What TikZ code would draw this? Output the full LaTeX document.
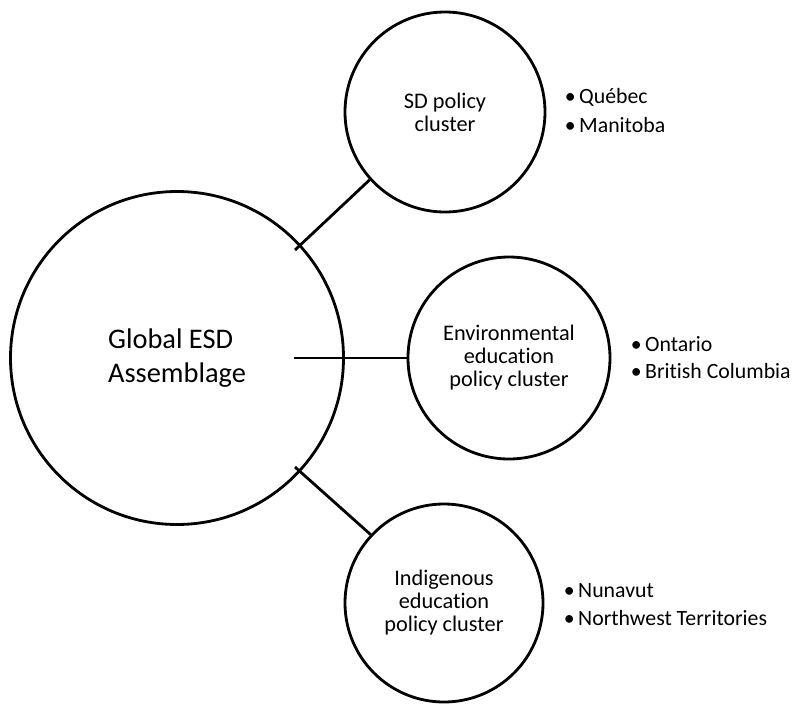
\documentclass[tikz,border=0pt]{standalone}
\usepackage{fontspec}
\setmainfont[Ligatures={NoCommon}]{Carlito}
\newcommand\bulitem[1]{\makebox[0pt][c]{\textbullet}\hspace{9pt}#1}
\begin{document}
\begin{tikzpicture}[x=1pt,y=1pt,
  ring/.style={draw, circle, line width=2.8pt, inner sep=0pt, align=center},
  link/.style={line width=2.8pt},
  clustertext/.style={font=\fontsize{22.3}{23}\selectfont},
  item/.style={anchor=base west, inner sep=0pt, font=\fontsize{21.8}{26}\selectfont}]
\useasboundingbox (0,0) rectangle (793,-704);
\node[ring, minimum size=333pt, align=left, font=\fontsize{28.4}{34}\selectfont] (big) at (177,-358) {Global ESD\\Assemblage};
\node[ring, minimum size=200pt, clustertext] (sd) at (445,-112) {SD policy\\cluster};
\node[ring, minimum size=202pt, clustertext] (env) at (509,-358) {Environmental\\education\\policy cluster};
\node[ring, minimum size=198pt, clustertext] (ind) at (444,-603) {Indigenous\\education\\policy cluster};
\coordinate (s1) at (295,-250);
\coordinate (s2) at (294,-358);
\coordinate (s3) at (295,-467);
\draw[link] (s1) -- (sd.222);
\draw[link] (s2) -- (env.west);
\draw[link] (s3) -- (ind.137);
\node[item] (q1) at (570,-103) {\bulitem{Québec}};
\node[item] (q2) at (570,-132) {\bulitem{Manitoba}};
\node[item] (o1) at (636,-351) {\bulitem{Ontario}};
\node[item] (o2) at (636,-378) {\bulitem{British Columbia}};
\node[item] (n1) at (569,-597) {\bulitem{Nunavut}};
\node[item] (n2) at (569,-625) {\bulitem{Northwest Territories}};
\end{tikzpicture}
\end{document}
